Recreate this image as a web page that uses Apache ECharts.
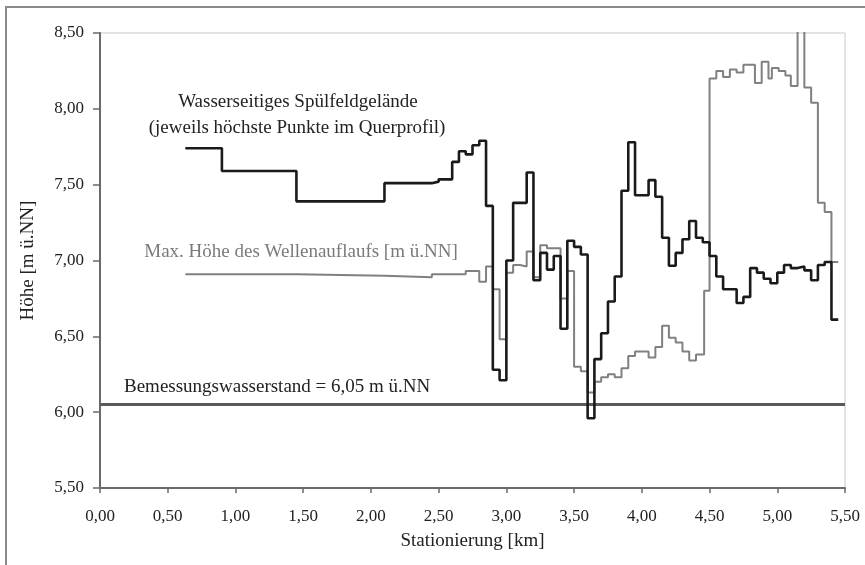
<!DOCTYPE html>
<html>
<head>
<meta charset="utf-8">
<title>Höhe Spülfeld</title>
<script src="https://cdn.jsdelivr.net/npm/echarts@6/dist/echarts.min.js"></script>
<style>
    html, body { margin: 0; padding: 0; background: #fff; }
    #chart { width: 865px; height: 565px; }
</style>
</head>
<body>
<div id="chart"></div>
<script>
// Wasserseitiges Spülfeldgelände: Station (Beginn des Abschnitts) und Höhe
var groundKm = [0.63, 0.90, 1.45, 2.10, 2.45, 2.50, 2.60, 2.65, 2.70, 2.75, 2.80, 2.85, 2.90, 2.95, 3.00, 3.05,
    3.15, 3.20, 3.25, 3.30, 3.35, 3.40, 3.45, 3.50, 3.55, 3.60, 3.65, 3.70, 3.75, 3.80, 3.85, 3.90, 3.95, 4.05,
    4.10, 4.15, 4.20, 4.25, 4.30, 4.35, 4.40, 4.45, 4.50, 4.55, 4.60, 4.70, 4.75, 4.80, 4.85, 4.90, 4.95, 5.00,
    5.05, 5.10, 5.15, 5.20, 5.25, 5.30, 5.35, 5.40, 5.45];
var groundH = [7.74, 7.59, 7.39, 7.51, 7.52, 7.535, 7.65, 7.72, 7.70, 7.76, 7.79, 7.36, 6.28, 6.21, 7.00, 7.38,
    7.58, 6.87, 7.05, 6.94, 7.03, 6.55, 7.13, 7.09, 7.04, 5.96, 6.35, 6.52, 6.73, 6.895, 7.46, 7.78, 7.43, 7.53,
    7.42, 7.15, 6.965, 7.05, 7.14, 7.26, 7.15, 7.12, 7.03, 6.895, 6.81, 6.72, 6.76, 6.95, 6.92, 6.88, 6.85, 6.92,
    6.97, 6.95, 6.96, 6.935, 6.87, 6.97, 6.99, 6.61, 6.61];

// Max. Höhe des Wellenauflaufs
var runupKm = [0.63, 1.45, 2.10, 2.45, 2.70, 2.80, 2.85, 2.90, 2.95, 3.00, 3.05, 3.10, 3.15, 3.20, 3.25, 3.30,
    3.40, 3.45, 3.50, 3.55, 3.60, 3.65, 3.70, 3.75, 3.80, 3.85, 3.90, 3.95, 4.05, 4.10, 4.15, 4.20, 4.25, 4.30,
    4.35, 4.40, 4.46, 4.50, 4.55, 4.60, 4.65, 4.70, 4.75, 4.835, 4.885, 4.935, 4.96, 5.01, 5.06, 5.10, 5.15,
    5.20, 5.25, 5.30, 5.35, 5.40, 5.45];
var runupH = [6.91, 6.90, 6.89, 6.91, 6.93, 6.86, 6.96, 6.81, 6.48, 6.92, 6.97, 6.96, 7.06, 6.89, 7.10, 7.08,
    6.75, 6.93, 6.30, 6.27, 6.13, 6.20, 6.23, 6.25, 6.23, 6.29, 6.37, 6.40, 6.36, 6.43, 6.57, 6.49, 6.46, 6.40,
    6.34, 6.38, 6.80, 8.20, 8.25, 8.21, 8.26, 8.24, 8.29, 8.17, 8.31, 8.20, 8.27, 8.25, 8.22, 8.15, 8.90,
    8.14, 8.04, 7.38, 7.32, 6.99, 6.99];

// Bemessungswasserstand
var designLevel = 6.05;
var designKm = [0.00, 5.50];

var xTicks = [0, 5.5, 0.5];     // min, max, interval
var yTicks = [5.5, 8.5, 0.5];

var serif = '"Liberation Serif", "Times New Roman", serif';

function toPairs(xs, ys) {
    var out = [];
    for (var i = 0; i < xs.length; i++) {
        out.push([xs[i], ys[i]]);
    }
    return out;
}

function comma(v) {
    return v.toFixed(2).replace('.', ',');
}

var chart = echarts.init(document.getElementById('chart'), null, {renderer: 'canvas'});

var option = {
    animation: false,
    backgroundColor: '#fff',
    textStyle: {fontFamily: serif},
    grid: {
        left: 100,
        top: 33,
        right: 20,
        bottom: 77,
        show: true,
        borderColor: '#c8c8c8',
        borderWidth: 1
    },
    xAxis: {
        type: 'value',
        min: xTicks[0],
        max: xTicks[1],
        interval: xTicks[2],
        name: 'Stationierung [km]',
        nameLocation: 'middle',
        nameGap: 44,
        nameTextStyle: {fontFamily: serif, fontSize: 19, color: '#222'},
        axisLine: {show: true, onZero: false, lineStyle: {color: '#6a6a6a', width: 2}},
        axisTick: {show: true, inside: false, length: 5, lineStyle: {color: '#6a6a6a', width: 1.5}},
        axisLabel: {
            margin: 20,
            fontFamily: serif,
            fontSize: 17,
            color: '#222',
            formatter: comma
        },
        splitLine: {show: false}
    },
    yAxis: {
        type: 'value',
        min: yTicks[0],
        max: yTicks[1],
        interval: yTicks[2],
        name: 'Höhe [m ü.NN]',
        nameLocation: 'middle',
        nameGap: 62,
        nameRotate: 90,
        nameTextStyle: {fontFamily: serif, fontSize: 19, color: '#222'},
        axisLine: {show: true, onZero: false, lineStyle: {color: '#6a6a6a', width: 2}},
        axisTick: {show: true, inside: false, length: 7, lineStyle: {color: '#6a6a6a', width: 1.5}},
        axisLabel: {
            margin: 16,
            fontFamily: serif,
            fontSize: 17,
            color: '#222',
            formatter: comma
        },
        splitLine: {show: false}
    },
    series: [
        {
            name: 'Bemessungswasserstand',
            type: 'line',
            data: toPairs(designKm, [designLevel, designLevel]),
            showSymbol: false,
            lineStyle: {color: '#5a5a5a', width: 3},
            silent: true,
            z: 2
        },
        {
            name: 'Max. Höhe des Wellenauflaufs',
            type: 'line',
            step: 'end',
            data: toPairs(runupKm, runupH),
            showSymbol: false,
            clip: true,
            lineStyle: {color: '#808080', width: 2},
            z: 3
        },
        {
            name: 'Wasserseitiges Spülfeldgelände',
            type: 'line',
            step: 'end',
            data: toPairs(groundKm, groundH),
            showSymbol: false,
            clip: true,
            lineStyle: {color: '#1a1a1a', width: 2.6},
            z: 4
        }
    ],
    graphic: [
        {
            type: 'rect',
            shape: {x: 6, y: 7, width: 880, height: 580},
            style: {fill: 'none', stroke: '#8a8a8a', lineWidth: 2},
            silent: true
        },
        {
            type: 'text',
            x: 298, y: 102,
            style: {
                text: 'Wasserseitiges Spülfeldgelände',
                font: '19px ' + serif,
                fill: '#222',
                align: 'center',
                verticalAlign: 'middle'
            }
        },
        {
            type: 'text',
            x: 297, y: 128,
            style: {
                text: '(jeweils höchste Punkte im Querprofil)',
                font: '19px ' + serif,
                fill: '#222',
                align: 'center',
                verticalAlign: 'middle'
            }
        },
        {
            type: 'text',
            x: 301, y: 252,
            style: {
                text: 'Max. Höhe des Wellenauflaufs [m ü.NN]',
                font: '19px ' + serif,
                fill: '#7a7a7a',
                align: 'center',
                verticalAlign: 'middle'
            }
        },
        {
            type: 'text',
            x: 124, y: 387,
            style: {
                text: 'Bemessungswasserstand = 6,05 m ü.NN',
                font: '19px ' + serif,
                fill: '#222',
                align: 'left',
                verticalAlign: 'middle'
            }
        }
    ]
};

chart.setOption(option);
</script>
</body>
</html>
